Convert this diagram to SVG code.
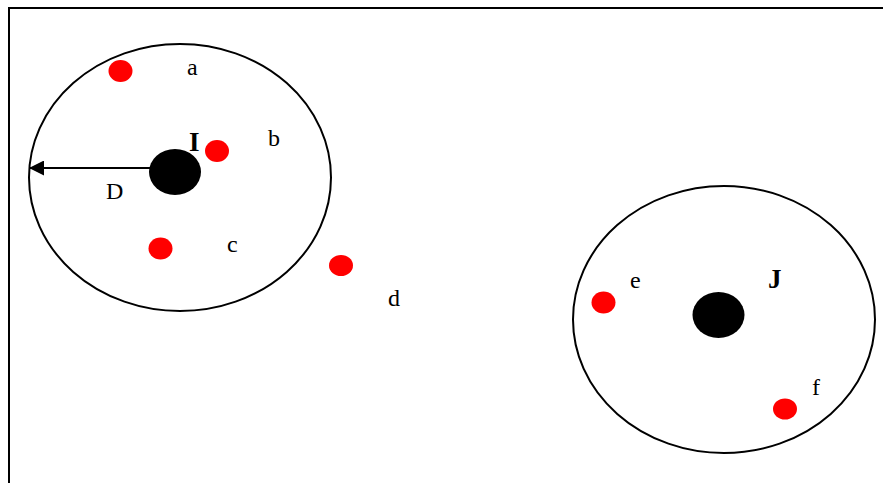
<svg xmlns="http://www.w3.org/2000/svg" width="883" height="483" viewBox="0 0 883 483">
<style>
.ring{fill:none;stroke:#000;stroke-width:2}
.pt{fill:#ff0000}
.ctr{fill:#000}
.lbl{font-family:"Liberation Serif","Times New Roman",serif;font-size:24px;fill:#000}
.big{font-family:"Liberation Serif","Times New Roman",serif;font-size:27px;font-weight:bold;fill:#000}
</style>
<defs>
<marker id="ah" viewBox="0 0 10 10" refX="10" refY="5" markerWidth="15" markerHeight="15" markerUnits="userSpaceOnUse" orient="auto">
<path d="M0,0 L10,5 L0,10 Z" fill="#000"/>
</marker>
</defs>
<rect x="9" y="8" width="900" height="500" fill="#fff" stroke="#000" stroke-width="2"/>
<g id="clusterI">
<ellipse class="ring" cx="180" cy="177.5" rx="151" ry="133.5"/>
<ellipse class="ctr" cx="175" cy="172" rx="26" ry="23"/>
<text class="big" x="189" y="151">I</text>
</g>
<g id="clusterJ">
<ellipse class="ring" cx="724" cy="319.5" rx="151" ry="133.5"/>
<ellipse class="ctr" cx="718.5" cy="315" rx="26" ry="23"/>
<text class="big" x="768" y="288">J</text>
</g>
<g id="pa"><ellipse class="pt" cx="120.5" cy="71" rx="12" ry="11"/><text class="lbl" x="187" y="75">a</text></g>
<g id="pb"><ellipse class="pt" cx="217" cy="151" rx="12" ry="11"/><text class="lbl" x="268" y="146">b</text></g>
<g id="pc"><ellipse class="pt" cx="160.5" cy="248.5" rx="12" ry="11"/><text class="lbl" x="227" y="252">c</text></g>
<g id="pd"><ellipse class="pt" cx="341" cy="265.5" rx="12" ry="10.5"/><text class="lbl" x="388" y="306">d</text></g>
<g id="pe"><ellipse class="pt" cx="603.5" cy="302.5" rx="12" ry="11"/><text class="lbl" x="630" y="288">e</text></g>
<g id="pf"><ellipse class="pt" cx="785" cy="409" rx="12" ry="10.5"/><text class="lbl" x="812" y="395">f</text></g>
<g id="connectors">
<line x1="150" y1="168" x2="29" y2="168" stroke="#000" stroke-width="2" marker-end="url(#ah)"/>
<text class="lbl" x="106" y="199">D</text>
</g>
</svg>
